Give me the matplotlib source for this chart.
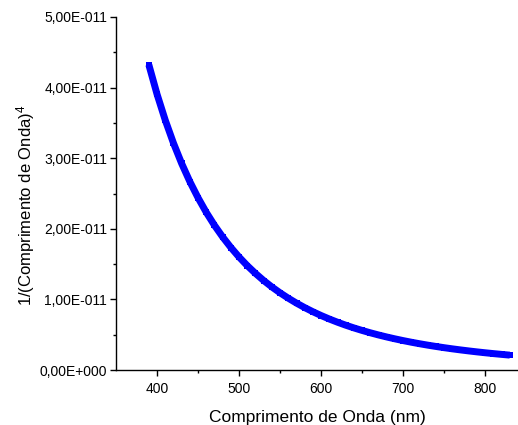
import matplotlib
matplotlib.use("Agg")
import matplotlib.pyplot as plt
from matplotlib.ticker import FixedLocator, FuncFormatter

# Wavelength (nm) and 1/lambda^4 (in units of 1e-12 nm^-4)
wavelength_nm = [390, 400, 410, 420, 430, 440, 450, 460, 470, 480,
                 490, 500, 510, 520, 530, 540, 550, 560, 570, 580,
                 590, 600, 610, 620, 630, 640, 650, 660, 670, 680,
                 690, 700, 710, 720, 730, 740, 750, 760, 770, 780,
                 790, 800, 810, 820, 830]
inv_lambda4_e12 = [43.23, 39.06, 35.39, 32.14, 29.25, 26.68, 24.39, 22.33, 20.49, 18.84,
                   17.35, 16.00, 14.78, 13.68, 12.67, 11.76, 10.93, 10.17, 9.473, 8.837,
                   8.253, 7.716, 7.222, 6.768, 6.348, 5.960, 5.602, 5.270, 4.963, 4.677,
                   4.412, 4.165, 3.935, 3.721, 3.521, 3.335, 3.160, 2.997, 2.845, 2.702,
                   2.567, 2.441, 2.323, 2.212, 2.107]

x_ticks = [400, 500, 600, 700, 800]
y_ticks = [0, 1e-11, 2e-11, 3e-11, 4e-11, 5e-11]

x_label = "Comprimento de Onda (nm)"
y_label = r"1/(Comprimento de Onda)$^4$"

plt.rcParams['font.family'] = ['Liberation Sans', 'DejaVu Sans']
plt.rcParams['mathtext.fontset'] = 'custom'
plt.rcParams['mathtext.rm'] = 'Liberation Sans'
plt.rcParams['mathtext.it'] = 'Liberation Sans'

fig = plt.figure(figsize=(5.18, 4.25), dpi=100)
ax = fig.add_axes([0.224, 0.1294, 0.776, 0.8306])

y_vals = [v * 1e-12 for v in inv_lambda4_e12]
ax.plot(wavelength_nm, y_vals, color='#0000ff', linewidth=5.0,
        solid_capstyle='butt', marker='s', markersize=4.6,
        markeredgewidth=0, markerfacecolor='#0000ff')

ax.set_xlim(350, 840)
ax.set_ylim(0, 5e-11)

ax.xaxis.set_major_locator(FixedLocator(x_ticks))
ax.xaxis.set_minor_locator(FixedLocator([450, 550, 650, 750]))
ax.yaxis.set_major_locator(FixedLocator(y_ticks))
ax.yaxis.set_minor_locator(FixedLocator([0.5e-11, 1.5e-11, 2.5e-11, 3.5e-11, 4.5e-11]))


def sci_comma(v, pos):
    if abs(v) < 1e-30:
        return "0,00E+000"
    s = f"{v:.2E}"
    mant, exp = s.split("E")
    e = int(exp)
    sign = "-" if e < 0 else "+"
    return f"{mant.replace('.', ',')}E{sign}{abs(e):03d}"


ax.yaxis.set_major_formatter(FuncFormatter(sci_comma))

for side in ('top', 'right'):
    ax.spines[side].set_visible(False)
for side in ('left', 'bottom'):
    ax.spines[side].set_linewidth(1.0)

ax.tick_params(axis='both', which='major', direction='out', length=4.5, width=1,
               labelsize=10)
ax.tick_params(axis='x', which='major', pad=4)
ax.tick_params(axis='y', which='major', pad=2)
ax.tick_params(axis='both', which='minor', direction='out', length=2.5, width=1)

ax.set_xlabel(x_label, fontsize=12.5, labelpad=10)
ax.set_ylabel(y_label, fontsize=12)
ax.yaxis.set_label_coords(-0.196, 0.467)

fig.savefig("out.png", dpi=100)
